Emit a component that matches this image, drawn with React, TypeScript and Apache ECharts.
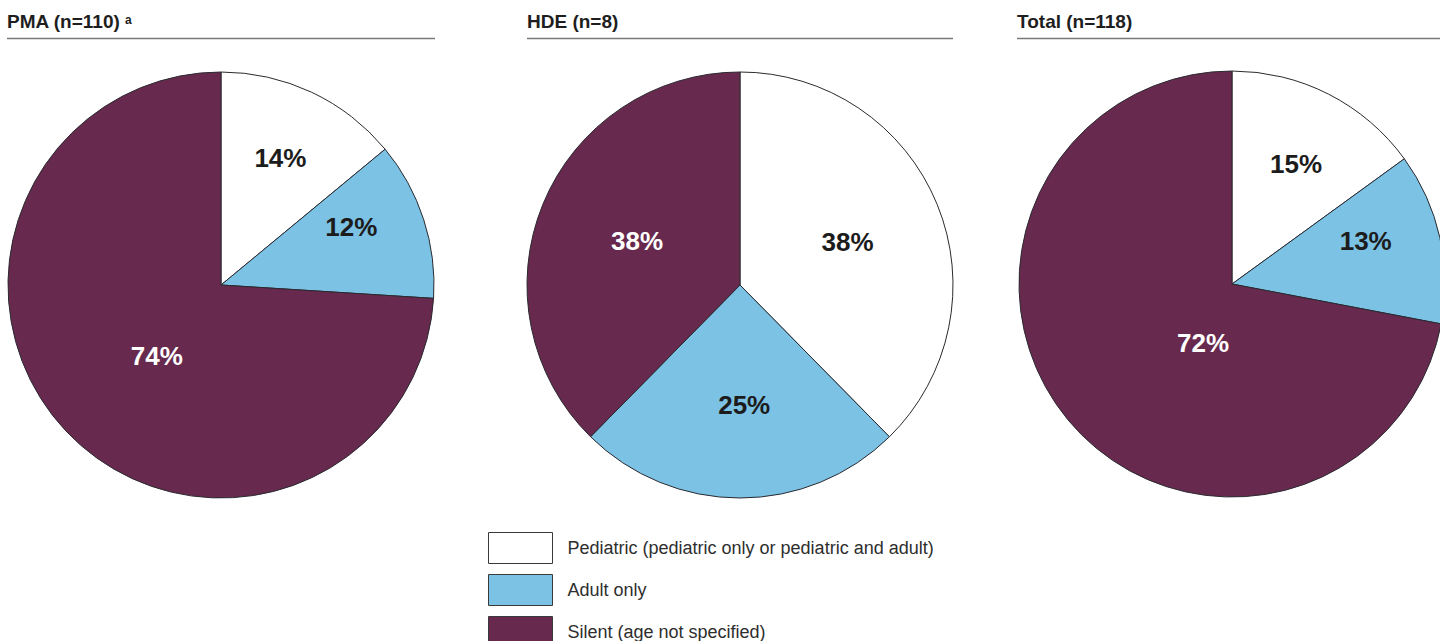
import React, { useEffect, useRef } from "react";
import * as echarts from "echarts";

const categories = [
  "Pediatric (pediatric only or pediatric and adult)",
  "Adult only",
  "Silent (age not specified)",
];
const pmaValues = [14, 12, 74];
const hdeValues = [38, 25, 38];
const totalValues = [15, 13, 72];
const panelTitles = ["PMA (n=110)", "HDE (n=8)", "Total (n=118)"];
const titleSup = ["a", "", ""];

const sliceColors = ["#ffffff", "#7cc2e5", "#67294d"];
const labelColors = ["#1c1c1c", "#1c1c1c", "#ffffff"];
const FONT = "Arial, 'Liberation Sans', Helvetica, sans-serif";

const panels = [
  { cx: 221, cy: 285, x0: 7, x1: 435, values: pmaValues, labels: [[0.66, 65], [0.67, 24], [0.45, -132]] },
  { cx: 740, cy: 285, x0: 527, x1: 953, values: hdeValues, labels: [[0.545, 22], [0.565, -88], [0.525, 157]] },
  { cx: 1232, cy: 284, x0: 1017, x1: 1440, values: totalValues, labels: [[0.64, 62], [0.66, 18], [0.31, -116]] },
];
const R = 213;

export default function App() {
  const ref = useRef<HTMLDivElement>(null);
  useEffect(() => {
    if (!ref.current) return;
    const chart = echarts.init(ref.current, null, { renderer: "svg" });
    const series = panels.map((p, si) => ({
      type: "pie",
      name: panelTitles[si],
      center: [p.cx, p.cy],
      radius: [0, R],
      startAngle: 90,
      clockwise: true,
      avoidLabelOverlap: false,
      silent: true,
      itemStyle: { borderColor: "#2a2a30", borderWidth: 1 },
      label: {
        show: true,
        position: "inside",
        fontFamily: FONT,
        fontSize: 26,
        fontWeight: "bold",
        formatter: (d: any) => `${d.value}%`,
      },
      labelLine: { show: false },
      labelLayout: (params: any) => {
        const [f, a] = p.labels[params.dataIndex];
        const rad = (a * Math.PI) / 180;
        return {
          x: p.cx + f * R * Math.cos(rad),
          y: p.cy - f * R * Math.sin(rad),
          align: "center",
          verticalAlign: "middle",
        };
      },
      data: categories.map((name, i) => ({
        name,
        value: p.values[i],
        itemStyle: { color: sliceColors[i] },
        label: { color: labelColors[i] },
      })),
    }));

    const graphics: any[] = [];
    panels.forEach((p, i) => {
      graphics.push({
        type: "text",
        left: p.x0,
        top: 12,
        style: {
          text: panelTitles[i],
          font: `bold 19px ${FONT}`,
          fill: "#1e1e1e",
        },
      });
      if (titleSup[i]) {
        graphics.push({
          type: "text",
          left: p.x0 + 118,
          top: 14,
          style: {
            text: titleSup[i],
            font: `bold 12px ${FONT}`,
            fill: "#1e1e1e",
          },
        });
      }
      graphics.push({
        type: "line",
        shape: { x1: p.x0, y1: 38.5, x2: p.x1, y2: 38.5 },
        style: { stroke: "#7a7a7a", lineWidth: 1.5 },
      });
    });

    chart.setOption({
      animation: false,
      backgroundColor: "#ffffff",
      legend: {
        orient: "vertical",
        left: 488,
        top: 532,
        height: 160,
        padding: 0,
        itemWidth: 64,
        itemHeight: 31,
        itemGap: 10,
        icon: "rect",
        selectedMode: false,
        itemStyle: { borderColor: "#3a3a3a", borderWidth: 1 },
        textStyle: {
          fontFamily: FONT,
          fontSize: 18,
          color: "#2e2e2e",
          padding: [0, 0, 0, 10],
        },
        data: categories,
      },
      graphic: graphics,
      series,
    });
    return () => chart.dispose();
  }, []);
  return (
    <div
      ref={ref}
      style={{ position: "fixed", left: 0, top: 0, width: 1440, height: 641, background: "#fff" }}
    />
  );
}
